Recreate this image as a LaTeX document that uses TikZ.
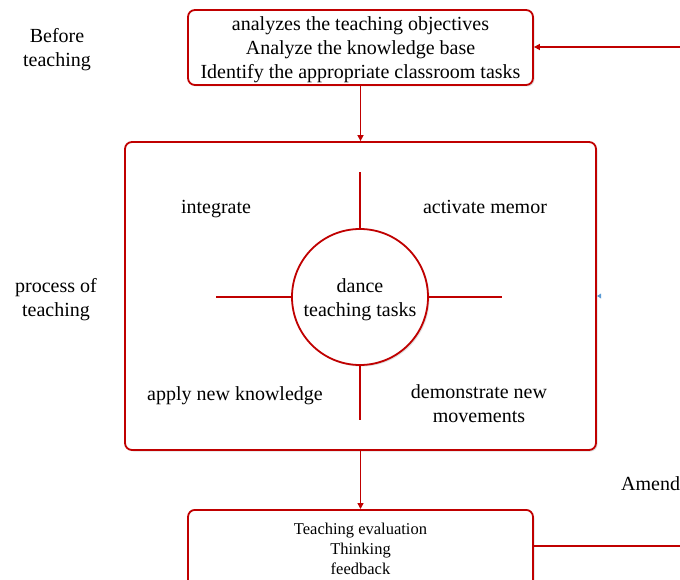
\documentclass[tikz,border=0pt]{standalone}
\usepackage{fontspec}
\setmainfont{Liberation Serif}
\usetikzlibrary{arrows.meta,shadows}
\definecolor{flowred}{RGB}{192,0,0}
\definecolor{tickblue}{RGB}{91,155,213}
\tikzset{
  stagebox/.style={draw=flowred, line width=1.8pt, rounded corners=7pt, fill=white,
    drop shadow={shadow xshift=1.5pt, shadow yshift=-1.5pt, opacity=0.25}},
  link/.style={draw=flowred, line width=1.6pt},
  flow/.style={link, -{Triangle[length=6pt,width=6pt]}},
  bigtext/.style={font=\fontsize{20}{24}\selectfont, align=center, inner sep=0pt, yshift=-2.5pt},
  smalltext/.style={font=\fontsize{16.5}{20}\selectfont, align=center, inner sep=0pt, yshift=-1.5pt}
}
\begin{document}
\begin{tikzpicture}[x=1pt, y=-1pt]
\useasboundingbox (0,0) rectangle (680,580);
\clip (0,0) rectangle (680,580);

% stage boxes
\node[stagebox, minimum width=345pt, minimum height=75pt] (plan) at (360.5,47.5) {};
\node[bigtext] at (plan.center) {analyzes the teaching objectives\\Analyze the knowledge base\\Identify the appropriate classroom tasks};

\node[stagebox, minimum width=471pt, minimum height=308pt] (proc) at (360.5,296) {};

\node[stagebox, minimum width=345pt, minimum height=90pt, anchor=north] (eval) at (360.5,509) {};
\node[smalltext] at (360.5,547) {Teaching evaluation\\Thinking\\feedback};

% central task circle with its four spokes
\node[draw=flowred, line width=1.8pt, circle, minimum size=136pt, fill=white,
  drop shadow={shadow xshift=1.5pt, shadow yshift=-1.5pt, opacity=0.25}] (task) at (360,297) {};
\node[bigtext] at (360,297) {dance\\teaching tasks};
\coordinate (sN) at (360,172);
\coordinate (sS) at (360,420);
\coordinate (sW) at (216,297);
\coordinate (sE) at (502,297);
\draw[link] (task.north) -- (sN);
\draw[link] (task.south) -- (sS);
\draw[link] (task.west) -- (sW);
\draw[link] (task.east) -- (sE);

% quadrant labels
\node[bigtext] (q1) at (216,207) {integrate};
\node[bigtext] (q2) at (485,204.5) {activate memor};
\node[bigtext] (q3) at (235,393) {apply new knowledge};
\node[bigtext] (q4) at (479,401) {demonstrate new\\movements};

% stage labels
\node[bigtext] (l1) at (57,47) {Before\\teaching};
\node[bigtext] (l2) at (56,297) {process of\\teaching};
\node[bigtext, anchor=west] (l3) at (621,481) {Amend};

% flow between stages
\draw[flow] (plan.south) -- (proc.north);
\draw[flow] (proc.south) -- (eval.north);

% feedback loop
\coordinate (loopA) at (681,546);
\coordinate (loopB) at (681,47);
\draw[link] (eval.east |- 0,546) -- (loopA);
\draw[flow] (loopB) -- (plan.east |- 0,47);

% small blue mark on the process box
\fill[tickblue] (597,296) -- (601,293.5) -- (601,298.5) -- cycle;
\end{tikzpicture}
\end{document}
